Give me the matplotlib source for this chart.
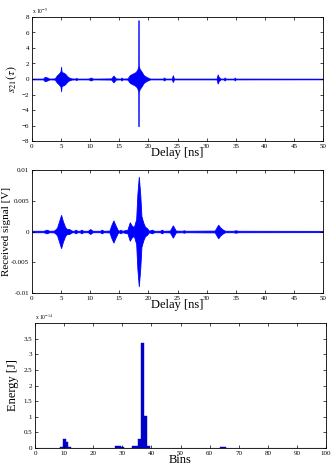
#!/usr/bin/env python3
import numpy as np
import matplotlib
matplotlib.use("Agg")
import matplotlib.pyplot as plt

# ---------------- data ----------------
# top panel: envelope of s21(tau), units of 1e-5
S21_DELAY = [0.0, 1.9, 2.2, 2.6, 3.0, 3.9, 4.3, 4.6, 4.9, 5.0, 5.1, 5.5, 5.8, 6.2, 6.8,
             7.4, 7.6, 7.8, 9.7, 10.1, 10.5, 13.6, 14.0, 14.4, 15.2, 15.4, 15.6,
             16.4, 16.8, 17.3, 17.8, 18.1, 18.27, 18.3, 18.33, 18.5, 18.8, 19.2, 19.7, 20.3,
             22.5, 22.7, 22.9, 24.0, 24.2, 24.4, 31.7, 31.9, 32.1, 32.4,
             32.9, 33.1, 33.3, 34.7, 34.85, 35.0, 50.0]
S21_UPPER = [0.06, 0.06, 0.3, 0.2, 0.06, 0.08, 0.5, 0.7, 1.0, 1.6, 0.9, 0.8, 0.6, 0.25, 0.08,
             0.06, 0.15, 0.06, 0.06, 0.2, 0.06, 0.08, 0.45, 0.08, 0.06, 0.2, 0.06,
             0.08, 0.5, 0.7, 0.9, 1.2, 1.8, 7.6, 1.8, 1.3, 1.0, 0.5, 0.25, 0.06,
             0.06, 0.2, 0.06, 0.06, 0.5, 0.06, 0.06, 0.6, 0.25, 0.06,
             0.06, 0.2, 0.06, 0.06, 0.2, 0.06, 0.05]
S21_LOWER = [-0.06, -0.06, -0.3, -0.2, -0.06, -0.08, -0.5, -0.7, -1.0, -1.6, -0.9, -0.8, -0.6, -0.25, -0.08,
             -0.06, -0.15, -0.06, -0.06, -0.2, -0.06, -0.08, -0.45, -0.08, -0.06, -0.2, -0.06,
             -0.08, -0.5, -0.7, -0.9, -1.2, -1.8, -6.1, -1.8, -1.3, -1.0, -0.5, -0.25, -0.06,
             -0.06, -0.2, -0.06, -0.06, -0.4, -0.06, -0.06, -0.6, -0.25, -0.06,
             -0.06, -0.2, -0.06, -0.06, -0.2, -0.06, -0.05]

# middle panel: envelope of received signal [V]
RX_DELAY = [0.0, 2.0, 2.5, 3.0, 3.8, 4.3, 4.7, 5.0, 5.3, 5.7, 6.0, 6.4, 6.8,
            7.2, 7.5, 7.8, 8.2, 8.5, 8.8, 9.6, 10.0, 10.4, 11.7, 12.0, 12.3,
            13.3, 13.7, 14.0, 14.3, 14.7, 15.0, 15.2, 15.5,
            16.4, 16.8, 17.1, 17.5, 17.9, 18.1, 18.35, 18.6, 18.8, 19.1, 19.4, 19.8, 20.1,
            20.6, 21.0, 22.0, 22.3, 22.6, 23.7, 24.2, 24.7, 25.8, 26.1, 26.4,
            31.4, 31.8, 32.0, 32.3, 32.8, 33.2, 34.6, 35.0, 35.4, 50.0]
RX_UPPER = [0.00012, 0.00012, 0.0003, 0.00012, 0.00015, 0.0006, 0.0018, 0.0027, 0.0017, 0.0007, 0.0004, 0.0004, 0.00015,
            0.00012, 0.0003, 0.00012, 0.00012, 0.0003, 0.00012, 0.00012, 0.0004, 0.00012, 0.00012, 0.0003, 0.00012,
            0.00015, 0.0012, 0.0018, 0.0011, 0.0003, 0.00012, 0.0003, 0.00012,
            0.0003, 0.0015, 0.0010, 0.0007, 0.002, 0.006, 0.0089, 0.006, 0.0025, 0.0015, 0.0008, 0.0005, 0.00012,
            0.0003, 0.00012, 0.00012, 0.0003, 0.00012, 0.00015, 0.001, 0.00015, 0.00012, 0.0002, 0.00012,
            0.00015, 0.0008, 0.0011, 0.0007, 0.0003, 0.00012, 0.00012, 0.0002, 0.00012, 0.0001]
RX_LOWER = [-v for v in RX_UPPER]

# bottom panel: energy per bin, units of 1e-14 J
BINS = [9, 10, 11, 12, 28, 29, 30, 34, 35, 36, 37, 38, 39, 64, 65]
ENERGY = [0.03, 0.28, 0.2, 0.03, 0.08, 0.08, 0.02, 0.08, 0.05, 0.3, 3.35, 1.02, 0.07, 0.03, 0.03]

BLUE = "#0000ff"
BAR_BLUE = "#0000c8"

plt.rcParams["font.family"] = ["Liberation Serif", "DejaVu Serif"]
plt.rcParams["mathtext.fontset"] = "stix"


def style_axes(ax):
    ax.tick_params(direction="in", top=True, right=True, labelsize=5,
                   length=2.5, width=0.5, pad=2)
    for s in ax.spines.values():
        s.set_linewidth(0.6)


W, H = 333, 469
fig = plt.figure(figsize=(W / 100, H / 100), dpi=100)

# ---------- top ----------
ax1 = fig.add_axes([32 / W, 1 - 141 / H, 291 / W, 124 / H])
ax1.fill_between(S21_DELAY, S21_LOWER, S21_UPPER, color=BLUE, lw=0.5)
ax1.set_xlim(0, 50)
ax1.set_ylim(-8, 8)
ax1.set_xticks(np.arange(0, 51, 5))
ax1.set_yticks(np.arange(-8, 9, 2))
style_axes(ax1)
ax1.set_xlabel("Delay [ns]", fontsize=9, labelpad=-1)
ax1.set_ylabel(r"$s_{21}(\tau)$", fontsize=8.5, labelpad=2)
ax1.text(0.0, 1.01, r"x 10$^{-5}$", transform=ax1.transAxes, fontsize=4, va="bottom")

# ---------- middle ----------
ax2 = fig.add_axes([32 / W, 1 - 293 / H, 291 / W, 123 / H])
ax2.fill_between(RX_DELAY, RX_LOWER, RX_UPPER, color=BLUE, lw=0.6)
ax2.set_xlim(0, 50)
ax2.set_ylim(-0.01, 0.01)
ax2.set_xticks(np.arange(0, 51, 5))
ax2.set_yticks([-0.01, -0.005, 0, 0.005, 0.01])
ax2.set_yticklabels(["-0.01", "-0.005", "0", "0.005", "0.01"])
style_axes(ax2)
ax2.set_xlabel("Delay [ns]", fontsize=9, labelpad=-1)
ax2.set_ylabel("Received signal [V]", fontsize=8, labelpad=0.5)

# ---------- bottom ----------
ax3 = fig.add_axes([35 / W, 1 - 448 / H, 291 / W, 125 / H])
ax3.bar(BINS, ENERGY, width=1.0, color=BAR_BLUE, edgecolor=BAR_BLUE, lw=0.3)
ax3.axhline(0, color=BAR_BLUE, lw=0.8)
ax3.set_xlim(0, 100)
ax3.set_ylim(0, 4)
ax3.set_xticks(np.arange(0, 101, 10))
ax3.set_yticks(np.arange(0, 3.6, 0.5))
ax3.set_yticklabels(["0", "0.5", "1", "1.5", "2", "2.5", "3", "3.5"])
style_axes(ax3)
ax3.set_xlabel("Bins", fontsize=9, labelpad=-1)
ax3.set_ylabel("Energy [J]", fontsize=9, labelpad=3)
ax3.text(0.0, 1.01, r"x 10$^{-14}$", transform=ax3.transAxes, fontsize=4, va="bottom")

fig.savefig("out.png", dpi=100)
